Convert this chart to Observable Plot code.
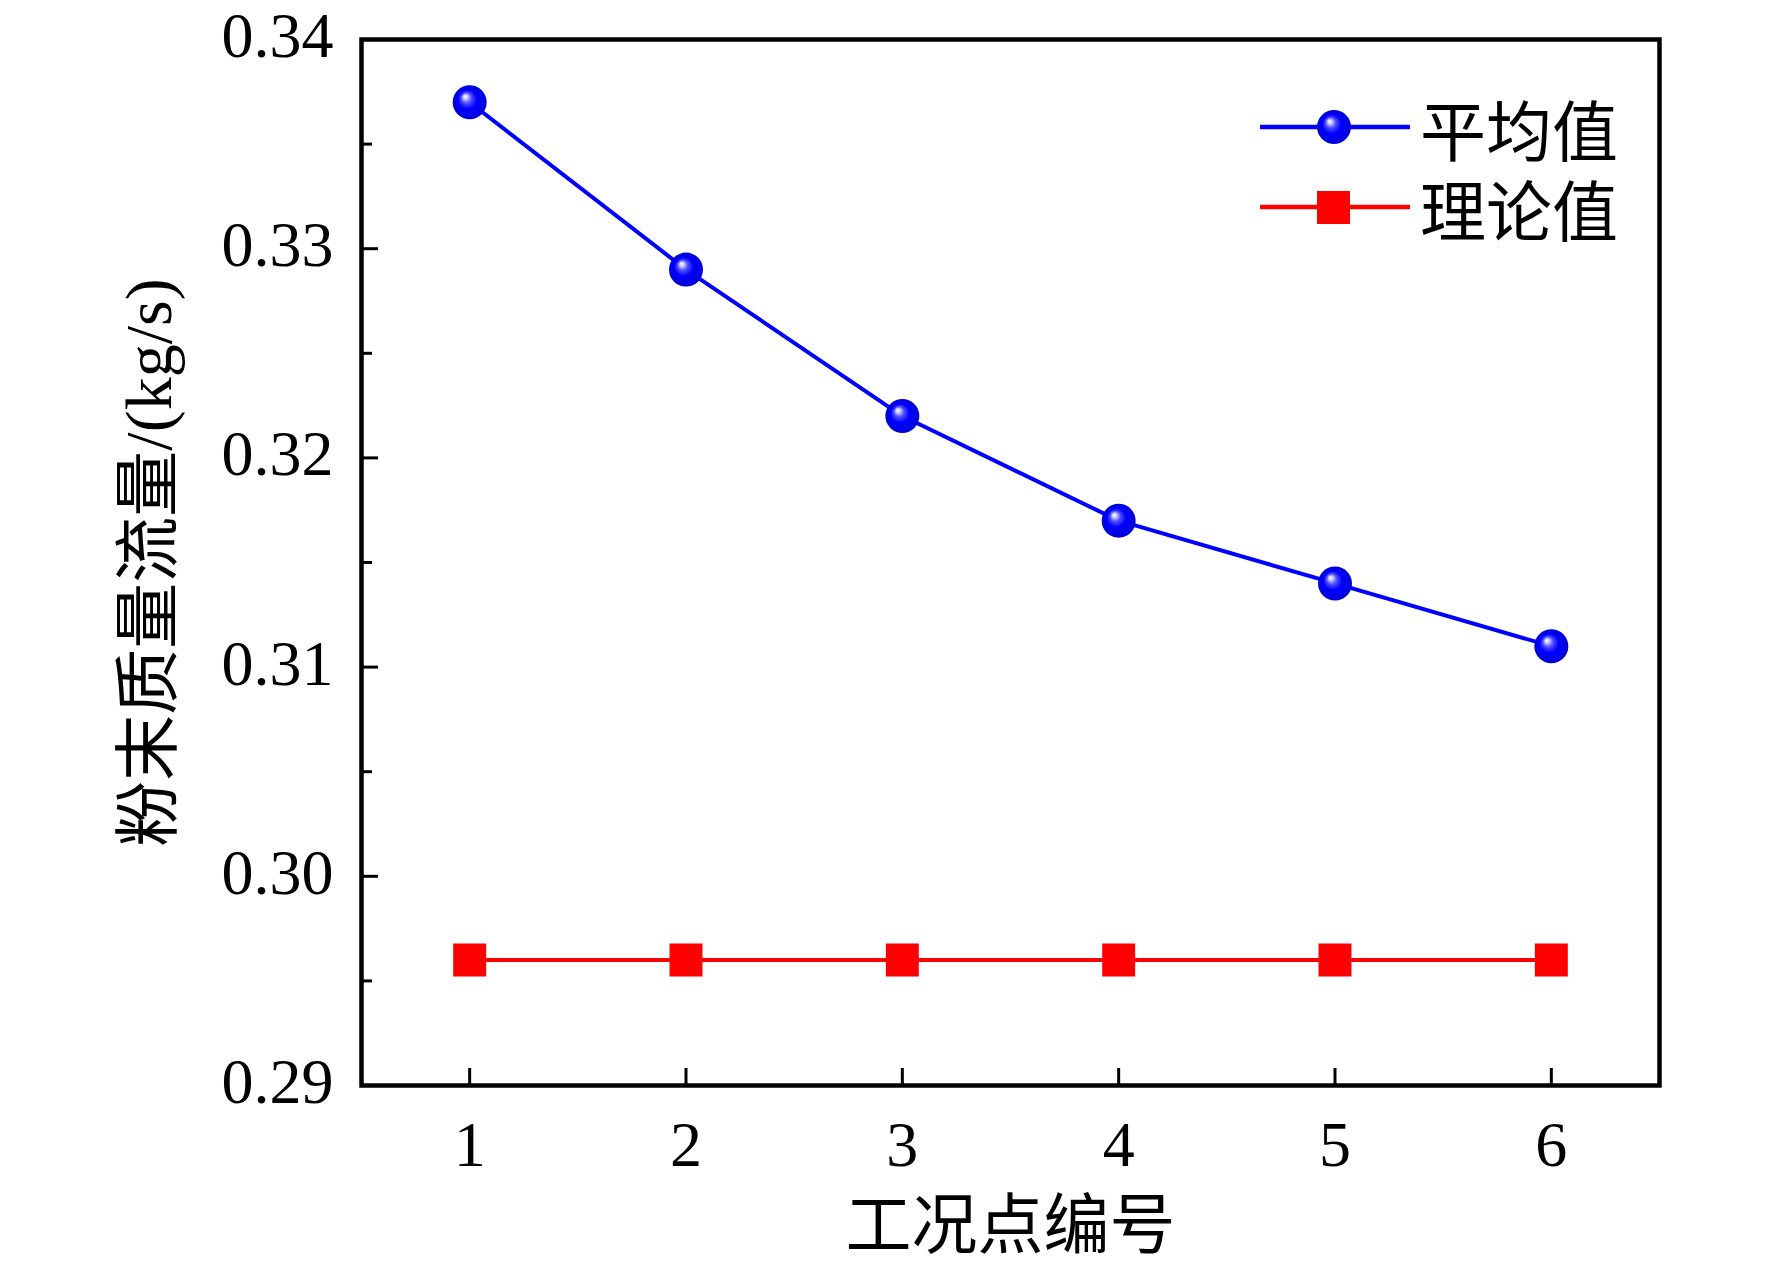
<!DOCTYPE html>
<html><head><meta charset="utf-8">
<script src="https://cdn.jsdelivr.net/npm/d3@7"></script>
<script src="https://cdn.jsdelivr.net/npm/@observablehq/plot@0.6"></script>
<style>
body{margin:0;background:#fff;}
#wrap{position:relative;width:1772px;height:1269px;overflow:hidden;}
#legend{position:absolute;left:1260px;top:87px;font-family:"Liberation Serif","Noto Sans CJK SC",serif;font-size:66px;color:#000;}
.row{display:flex;align-items:center;height:80px;}
.row svg{width:150px;height:40px;margin-right:10px;}
</style>
</head><body><div id="wrap"><div id="legend"></div></div>
<script>
const points = [1, 2, 3, 4, 5, 6];
const averageValues = [0.337, 0.329, 0.322, 0.317, 0.314, 0.311];
const theoryValues = [0.296, 0.296, 0.296, 0.296, 0.296, 0.296];
const yTicks = [0.29, 0.30, 0.31, 0.32, 0.33, 0.34];
const yMinorTicks = [0.295, 0.305, 0.315, 0.325, 0.335];
const seriesNames = ["平均值", "理论值"];
const seriesColors = ["#0000ff", "#ff0000"];
const xTitle = "工况点编号";
const yTitle = "粉末质量流量/(kg/s)";

const avg = points.map((x, i) => ({x, y: averageValues[i]}));
const theory = points.map((x, i) => ({x, y: theoryValues[i]}));

const chart = Plot.plot({
  width: 1772, height: 1269,
  marginLeft: 361, marginRight: 113, marginTop: 39, marginBottom: 184,
  style: {fontFamily: '"Liberation Serif","Noto Sans CJK SC",serif', background: "white", color: "black"},
  x: {domain: [0.5, 6.5]},
  y: {domain: [0.29, 0.34]},
  marks: [
    Plot.line(theory, {x: "x", y: "y", stroke: seriesColors[1], strokeWidth: 4}),
    Plot.dot(theory, {x: "x", y: "y", symbol: "square", r: 18.6, fill: seriesColors[1], stroke: "none"}),
    Plot.line(avg, {x: "x", y: "y", stroke: seriesColors[0], strokeWidth: 4}),
    Plot.dot(avg, {x: "x", y: "y", r: 17, fill: "url(#ball)", stroke: "none"}),
    Plot.axisX({ticks: points, tickSize: 17, dy: -17, tickFormat: () => "", label: null, strokeWidth: 3}),
    Plot.axisX({ticks: points, tickSize: 0, tickPadding: 35, fontSize: 64, label: null, tickFormat: d3.format("d")}),
    Plot.axisY({ticks: yTicks, tickSize: 17, dx: 17, tickFormat: () => "", label: null, strokeWidth: 3}),
    Plot.axisY({ticks: yMinorTicks, tickSize: 11, dx: 11, tickFormat: () => "", label: null, strokeWidth: 3}),
    Plot.axisY({ticks: yTicks, tickSize: 0, tickPadding: 28, dy: -3, fontSize: 64, label: null, tickFormat: d3.format(".2f")}),
    Plot.frame({stroke: "black", strokeWidth: 4.5}),
    Plot.text([xTitle], {text: d => d, frameAnchor: "bottom", dy: 141, fontSize: 66, lineAnchor: "middle", textAnchor: "middle"}),
    Plot.text([yTitle], {text: d => d, frameAnchor: "left", rotate: -90, dx: -212, fontSize: 66, lineAnchor: "middle", textAnchor: "middle"})
  ]
});

const defs = `<defs>
<radialGradient id="ball" cx="0.5" cy="0.5" r="0.5" fx="0.36" fy="0.32">
<stop offset="0" stop-color="#ffffff"/>
<stop offset="0.12" stop-color="#d0d0ff"/>
<stop offset="0.3" stop-color="#5050ff"/>
<stop offset="0.55" stop-color="#0000ff"/>
<stop offset="1" stop-color="#0000d8"/>
</radialGradient></defs>`;
chart.insertAdjacentHTML("afterbegin", defs);
document.getElementById("wrap").prepend(chart);

const legend = document.getElementById("legend");
seriesNames.forEach((name, i) => {
  const marker = i === 0
    ? `<circle cx="74" cy="20" r="17" fill="url(#ball)"/>`
    : `<rect x="57" y="4" width="33" height="33" fill="${seriesColors[i]}"/>`;
  const row = document.createElement("div");
  row.className = "row";
  row.innerHTML = `<svg viewBox="0 0 150 40"><line x1="1" x2="149" y1="20" y2="20" stroke="${seriesColors[i]}" stroke-width="4.5" stroke-linecap="round"/>${marker}</svg><span>${name}</span>`;
  legend.appendChild(row);
});
</script>
</body></html>
